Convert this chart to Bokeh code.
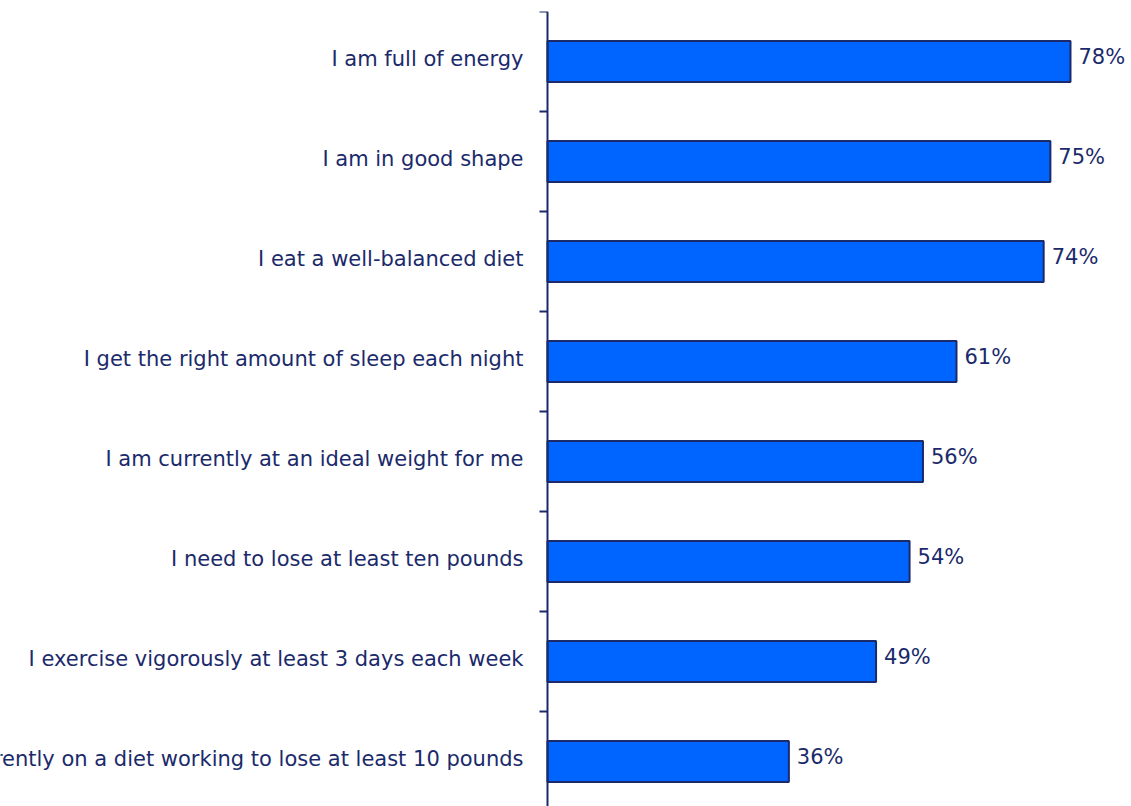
import math
from bokeh.plotting import figure
from bokeh.models import Range1d, Span, ColumnDataSource
from bokeh.core.properties import value
from bokeh.embed import file_html
from bokeh.resources import INLINE

categories = [
    "I am full of energy",
    "I am in good shape",
    "I eat a well-balanced diet",
    "I get the right amount of sleep each night",
    "I am currently at an ideal weight for me",
    "I need to lose at least ten pounds",
    "I exercise vigorously at least 3 days each week",
    "I am currently on a diet working to lose at least 10 pounds",
]
values = [78, 75, 74, 61, 56, 54, 49, 36]
value_labels = [f"{v}%" for v in values]

NAVY = "#1b2a6b"
BLUE = "#0064ff"

pos = [i + 0.5 for i in range(len(categories))]
src = ColumnDataSource(dict(cat=categories, val=values, lab=value_labels, y=pos))

W, H = 1131, 806
p = figure(width=W, height=H, output_backend="svg", toolbar_location=None,
           x_range=Range1d(-81.58, 87.1), y_range=Range1d(7.95, 0),
           x_axis_location=None, y_axis_location=None,
           min_border_left=0, min_border_right=0, min_border_top=11, min_border_bottom=0)
p.grid.visible = False
p.outline_line_color = None
p.background_fill_color = "white"

p.hbar(y="y", left=0, right="val", height=0.41, source=src,
       fill_color=BLUE, line_color=NAVY, line_width=2)

# axis line and outward ticks at category boundaries
p.add_layout(Span(location=0, dimension="height", line_color=NAVY, line_width=2))
p.ray(x=[0] * len(categories), y=list(range(len(categories))), length=8,
      length_units="screen", angle=math.pi, line_color=NAVY, line_width=2)

p.text(x=0, y="y", text="cat", source=src, x_offset=-24, y_offset=-3, text_align="right",
       text_baseline="middle", text_font=value("DejaVu Sans"),
       text_font_size="21px", text_color=NAVY)
p.text(x="val", y="y", text="lab", source=src, x_offset=8, y_offset=-5, text_align="left",
       text_baseline="middle", text_font=value("DejaVu Sans"),
       text_font_size="21px", text_color=NAVY)

open("out.html", "w").write(file_html(p, INLINE))
